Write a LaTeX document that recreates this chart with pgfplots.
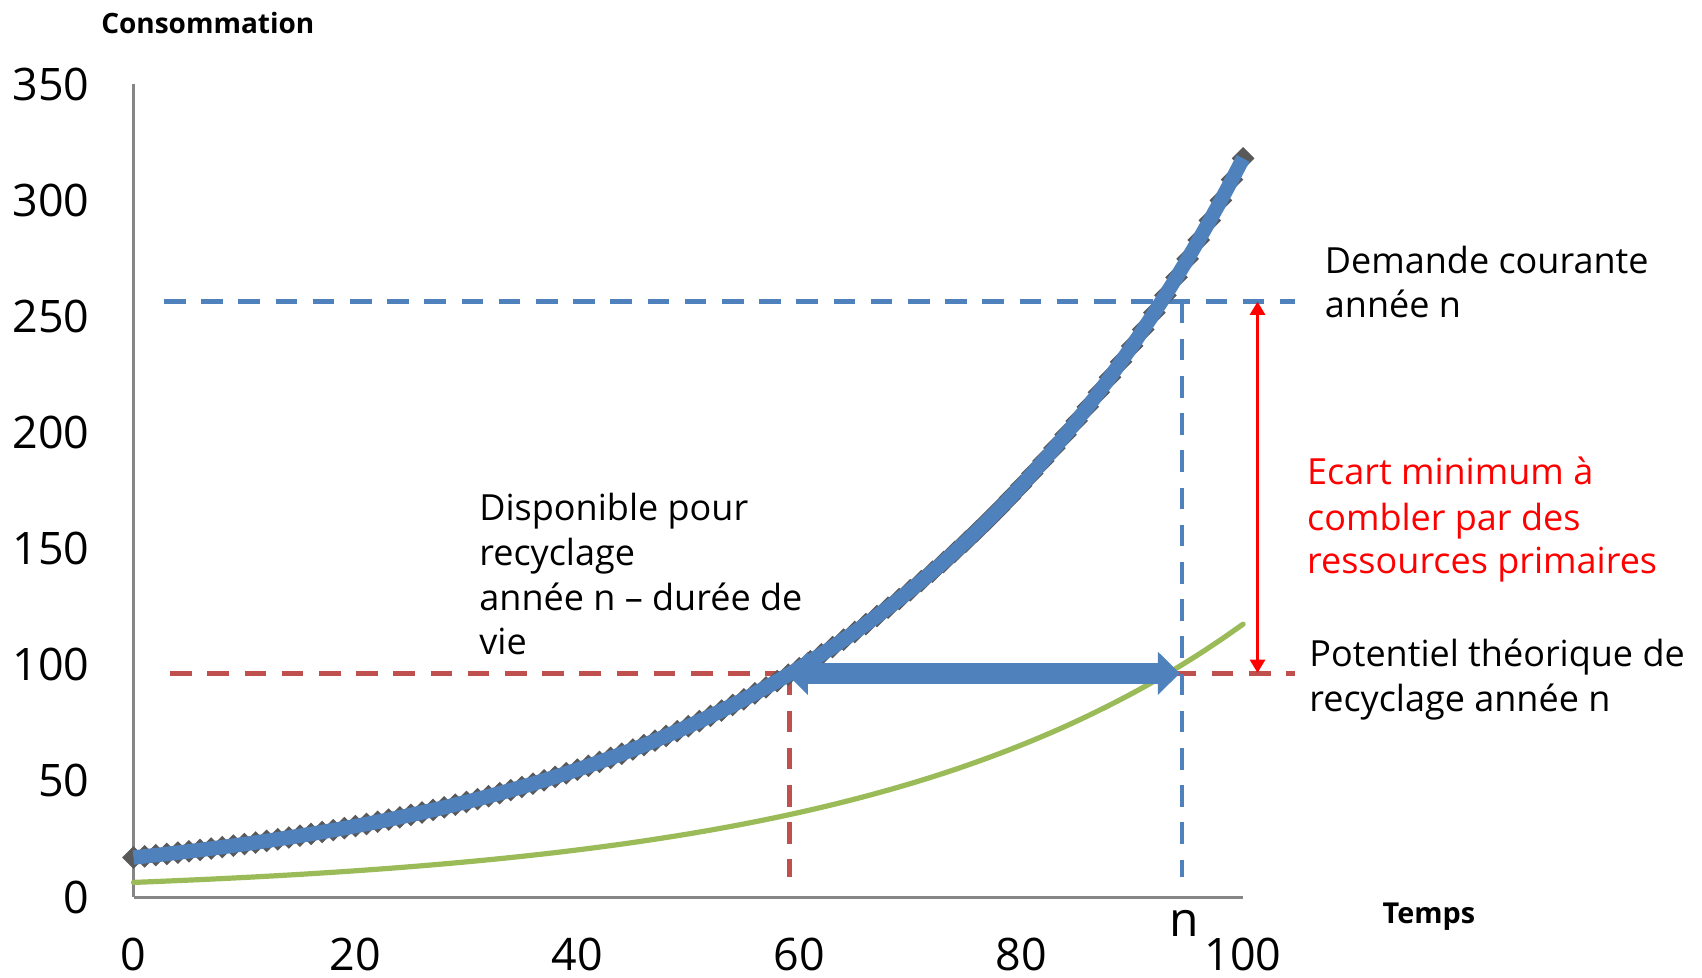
\documentclass[border=0pt]{standalone}
\usepackage{fontspec}
\setmainfont{Open Sans}
\usepackage{pgfplots}
\pgfplotsset{compat=1.18}
\usetikzlibrary{arrows.meta}
\definecolor{serieblue}{HTML}{4F81BD}
\definecolor{seriegreen}{HTML}{9BBB59}
\definecolor{dashred}{HTML}{C0504D}
\definecolor{markgray}{HTML}{595959}
\definecolor{axisgray}{HTML}{868686}
\newcommand{\annot}{\fontsize{9}{11.25}\selectfont}

% demande courante (exponentielle)
\pgfplotstableread{
x y
0 17.00
1 17.51
2 18.03
3 18.56
4 19.11
5 19.68
6 20.27
7 20.87
8 21.49
9 22.13
10 22.78
11 23.46
12 24.16
13 24.88
14 25.62
15 26.38
16 27.16
17 27.97
18 28.80
19 29.66
20 30.54
21 31.45
22 32.38
23 33.34
24 34.33
25 35.35
26 36.40
27 37.49
28 38.60
29 39.75
30 40.93
31 42.15
32 43.40
33 44.69
34 46.02
35 47.38
36 48.79
37 50.24
38 51.73
39 53.27
40 54.85
41 56.49
42 58.17
43 59.89
44 61.68
45 63.51
46 65.40
47 67.34
48 69.34
49 71.40
50 73.52
51 75.71
52 77.96
53 80.28
54 82.67
55 85.12
56 87.65
57 90.25
58 92.94
59 95.70
60 98.54
61 101.48
62 104.49
63 107.59
64 110.80
65 114.09
66 117.48
67 120.97
68 124.56
69 128.27
70 132.07
71 136.01
72 140.05
73 144.20
74 148.51
75 152.92
76 157.46
77 162.14
78 166.95
79 171.92
80 177.01
81 182.30
82 187.71
83 193.27
84 199.05
85 204.96
86 211.04
87 217.32
88 223.76
89 230.42
90 237.25
91 244.34
92 251.59
93 259.04
94 266.79
95 274.71
96 282.86
97 291.28
98 299.91
99 308.83
100 317.99
}\demande

% potentiel de recyclage
\pgfplotstableread{
x y
0 6.28
2 6.66
4 7.07
6 7.49
8 7.94
10 8.42
12 8.93
14 9.47
16 10.04
18 10.65
20 11.29
22 11.97
24 12.69
26 13.46
28 14.27
30 15.13
32 16.04
34 17.00
36 18.03
38 19.11
40 20.27
42 21.49
44 22.78
46 24.16
48 25.62
50 27.16
52 28.80
54 30.54
56 32.38
58 34.33
60 36.40
62 38.60
64 40.93
66 43.40
68 46.02
70 48.79
72 51.73
74 54.85
76 58.17
78 61.68
80 65.40
82 69.34
84 73.52
86 77.96
88 82.67
90 87.65
92 92.94
94 98.54
96 104.49
98 110.80
100 117.48
}\potentiel

\begin{document}
\begin{tikzpicture}
\path[use as bounding box] (0,0) rectangle (425.5pt,244.25pt);
\begin{axis}[
  at={(33.375pt,20pt)}, anchor=south west,
  scale only axis, width=277.4pt, height=203.25pt,
  xmin=0, xmax=100, ymin=0, ymax=350,
  axis lines=left,
  axis line style={draw=axisgray, line width=0.75pt, -},
  xtick={0,20,...,100}, ytick={0,50,...,350},
  major tick length=0pt,
  /pgf/number format/assume math mode=true,
  ticklabel style={font=\fontsize{11.2}{13}\selectfont, inner sep=0pt},
  xticklabel style={anchor=north, yshift=-10pt},
  yticklabel style={anchor=east, xshift=-10.8pt},
  clip=false,
  clip marker paths=true,
]
% lignes de repere
\addplot[serieblue, line width=1.2pt, dash pattern=on 5.4pt off 3.9pt] coordinates {(2.75,256.3) (104.7,256.3)};
\addplot[dashred, line width=1.2pt, dash pattern=on 5.4pt off 3.9pt] coordinates {(3.3,96.3) (104.7,96.3)};
\addplot[dashred, line width=1.2pt, dash pattern=on 5.4pt off 3.9pt] coordinates {(59.1,96.3) (59.1,8.6)};
\addplot[serieblue, line width=1.2pt, dash pattern=on 5.4pt off 3.9pt] coordinates {(94.5,256.3) (94.5,8.6)};

% courbes
\addplot[seriegreen, line width=1.3pt, line cap=round, smooth] table {\potentiel};
\addplot[only marks, mark=square*, mark size=1.8pt, mark options={rotate=45, fill=markgray, draw=markgray}] table {\demande};
\addplot[serieblue, line width=3.6pt, line join=round] table {\demande};

% fleches
\addplot[serieblue, line width=5.2pt, {Triangle[width=10.5pt,length=5.5pt]}-{Triangle[width=10.5pt,length=5.5pt]}] coordinates {(58.8,96.3) (94.3,96.3)};
\addplot[red, line width=0.6pt, {Triangle[width=3.8pt,length=3.3pt]}-{Triangle[width=3.8pt,length=3.3pt]}] coordinates {(101.3,96.5) (101.3,256.3)};

% textes
\node[anchor=base, font=\fontsize{7}{8}\selectfont\bfseries] at (axis cs:6.7,371.8) {Consommation};
\node[anchor=base west, font=\fontsize{7.2}{8}\selectfont\bfseries] at (axis cs:111.3,-11.3) {Temps};
\node[anchor=base west, inner sep=0pt, font=\fontsize{12}{14}\selectfont] at (axis cs:93.3,-16.8) {n};

\node[anchor=base west, inner sep=0pt, font=\annot] at (axis cs:107.3,268.5) {Demande courante};
\node[anchor=base west, inner sep=0pt, font=\annot] at (axis cs:107.3,249.3) {année n};

\node[anchor=base west, inner sep=0pt, font=\annot, text=red] at (axis cs:105.7,177.4) {Ecart minimum à};
\node[anchor=base west, inner sep=0pt, font=\annot, text=red] at (axis cs:105.7,158.0) {combler par des};
\node[anchor=base west, inner sep=0pt, font=\annot, text=red] at (axis cs:105.7,139.3) {ressources primaires};

\node[anchor=base west, inner sep=0pt, font=\annot] at (axis cs:105.9,99.1) {Potentiel théorique de};
\node[anchor=base west, inner sep=0pt, font=\annot] at (axis cs:105.9,79.8) {recyclage année n};

\node[anchor=base west, inner sep=0pt, font=\annot] at (axis cs:31.1,162.3) {Disponible pour};
\node[anchor=base west, inner sep=0pt, font=\annot] at (axis cs:31.1,142.9) {recyclage};
\node[anchor=base west, inner sep=0pt, font=\annot] at (axis cs:31.1,123.5) {année n – durée de};
\node[anchor=base west, inner sep=0pt, font=\annot] at (axis cs:31.1,104.2) {vie};
\end{axis}
\end{tikzpicture}
\end{document}
